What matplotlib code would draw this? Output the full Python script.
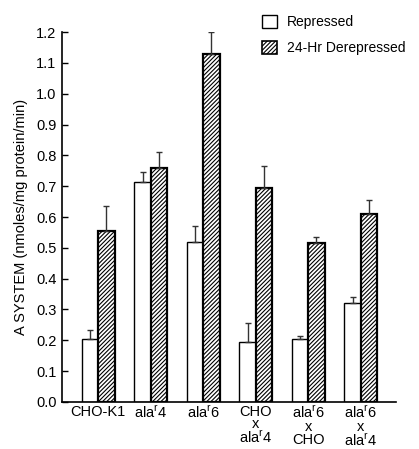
import matplotlib
matplotlib.use("Agg")
import matplotlib.pyplot as plt
import numpy as np
from matplotlib.patches import Patch

plt.rcParams['font.family'] = ['Liberation Sans', 'DejaVu Sans']
plt.rcParams['hatch.linewidth'] = 0.8

categories = ["CHO-K1", "ala$^\\mathregular{r}$4", "ala$^\\mathregular{r}$6",
              "CHO\nx\nala$^\\mathregular{r}$4", "ala$^\\mathregular{r}$6\nx\nCHO",
              "ala$^\\mathregular{r}$6\nx\nala$^\\mathregular{r}$4"]
repressed = [0.205, 0.715, 0.52, 0.195, 0.205, 0.32]
repressed_err = [0.03, 0.03, 0.05, 0.06, 0.01, 0.02]
derepressed = [0.555, 0.76, 1.13, 0.695, 0.515, 0.61]
derepressed_err = [0.08, 0.05, 0.07, 0.07, 0.02, 0.045]
yticks = [0.0, 0.1, 0.2, 0.3, 0.4, 0.5, 0.6, 0.7, 0.8, 0.9, 1.0, 1.1, 1.2]

fig = plt.figure(figsize=(4.19, 4.49), dpi=100)
ax = fig.add_axes([0.148, 0.1047, 0.797, 0.824])

x = np.arange(len(categories))
w = 0.31
ax.bar(x - w/2, repressed, w, color='white', edgecolor='black', linewidth=1.0)
ax.errorbar(x - w/2, repressed, yerr=[np.zeros(6), repressed_err], fmt='none',
            ecolor='#333333', elinewidth=1.0, capsize=2.5, capthick=1.0)
ax.bar(x + w/2, derepressed, w, color='white', edgecolor='black', linewidth=1.6, hatch='////////')
ax.errorbar(x + w/2, derepressed, yerr=[np.zeros(6), derepressed_err], fmt='none',
            ecolor='#333333', elinewidth=1.0, capsize=2.5, capthick=1.0)

ax.set_xlim(-0.69, 5.67)
ax.set_ylim(0, 1.2)
ax.set_yticks(yticks)
ax.set_yticklabels([f"{v:.1f}" for v in yticks], fontsize=10.5)
ax.tick_params(axis='y', direction='in', length=4, width=1, pad=4)
ax.set_xticks(x)
ax.set_xticklabels(categories, fontsize=10.5, va='top', linespacing=0.88)
ax.tick_params(axis='x', length=0, pad=2)
ax.spines['top'].set_visible(False)
ax.spines['right'].set_visible(False)
ax.spines['left'].set_linewidth(1.2)
ax.spines['bottom'].set_linewidth(1.2)
ax.set_ylabel("A SYSTEM (nmoles/mg protein/min)", fontsize=10.5, labelpad=6)

handles = [Patch(facecolor='white', edgecolor='black', linewidth=1.0),
           Patch(facecolor='white', edgecolor='black', linewidth=1.2, hatch='////////')]
fig.legend(handles, ["Repressed", "24-Hr Derepressed"], loc='upper left',
           bbox_to_anchor=(0.595, 0.995), frameon=False, fontsize=10,
           handlelength=1.1, handleheight=1.1, labelspacing=0.85, handletextpad=0.7)

fig.savefig("out.png", dpi=100)
